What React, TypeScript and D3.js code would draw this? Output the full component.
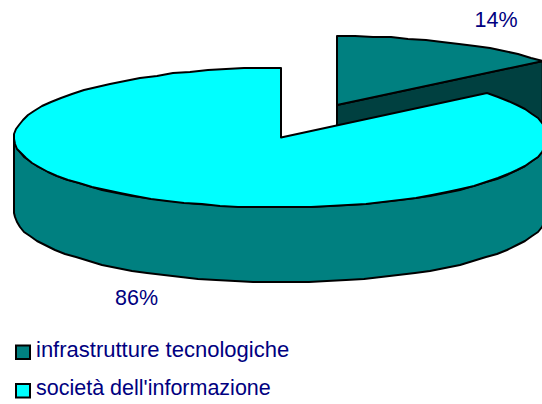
import React from "react";
import * as d3 from "d3";

const categories = ["infrastrutture tecnologiche", "società dell'informazione"];
const seriesValues = [14, 86];
const percentLabels = ["14%", "86%"];
const colors = ["#008080", "#00FFFF"];
const sideColor = "#008080";
const darkFace = "#004040";
const textColor = "#000080";
const W = 542, H = 404;

const pie = d3.pie<number>().sort(null).startAngle(0).endAngle(2 * Math.PI);
const arcs = pie(seriesValues);

const rx = 267, ry = 70, depth = 75;
const small = { cx: 337, cy: 105, ry: 69 };
const big = { cx: 281, cy: 137.5, ry };

type C = { cx: number; cy: number; ry: number };
const pt = (c: C, a: number, dy = 0): [number, number] => [
  c.cx + rx * Math.sin(a),
  c.cy - c.ry * Math.cos(a) + dy,
];
const rim = (c: C, a0: number, a1: number, dy = 0): [number, number][] => {
  const n = Math.max(2, Math.ceil(Math.abs(a1 - a0) / (Math.PI / 45)));
  const s = d3.scaleLinear().domain([0, n]).range([a0, a1]);
  return d3.range(n + 1).map((i) => {
    const p = pt(c, s(i), dy);
    return [Math.round(p[0]), Math.round(p[1])] as [number, number];
  });
};
const line = d3.line();
const closed = (p: [number, number][]) => (line(p) ?? "") + "Z";

const a14 = arcs[0].endAngle;
const smallTop = closed([[small.cx, small.cy], ...rim(small, arcs[0].startAngle, a14)]);
const smallFace = closed([
  [small.cx, small.cy],
  pt(small, a14),
  pt(small, a14, depth),
  [small.cx, small.cy + depth],
]);
const bigTop = closed([[big.cx, big.cy], ...rim(big, arcs[1].startAngle, arcs[1].endAngle)]);
const bigSide = closed([
  ...rim(big, Math.PI / 2, (3 * Math.PI) / 2),
  ...rim(big, (3 * Math.PI) / 2, Math.PI / 2, depth),
]);

const legendY = [345.5, 384];
const legendTextY = [357, 395];
const legendFontSize = [22, 21.5];
const font = "'Liberation Sans', Arial, sans-serif";

export default function App() {
  return (
    <svg width={W} height={H} style={{ position: "absolute", left: 0, top: 0, background: "#fff" }}>
      <g stroke="#000" strokeWidth={2} strokeLinejoin="round">
        <path d={smallFace} fill={darkFace} />
        <path d={smallTop} fill={colors[0]} />
        <path d={bigSide} fill={sideColor} />
        <path d={bigTop} fill={colors[1]} />
      </g>
      <g fill={textColor} fontFamily={font} fontSize={21.5}>
        <text x={496} y={27} textAnchor="middle">{percentLabels[0]}</text>
        <text x={136.5} y={305} textAnchor="middle">{percentLabels[1]}</text>
        {categories.map((c, i) => (
          <g key={c}>
            <rect x={16} y={legendY[i]} width={14} height={13.5} fill={colors[i]} stroke="#000" strokeWidth={2} />
            <text x={36} y={legendTextY[i]} fontSize={legendFontSize[i]}>{c}</text>
          </g>
        ))}
      </g>
    </svg>
  );
}
